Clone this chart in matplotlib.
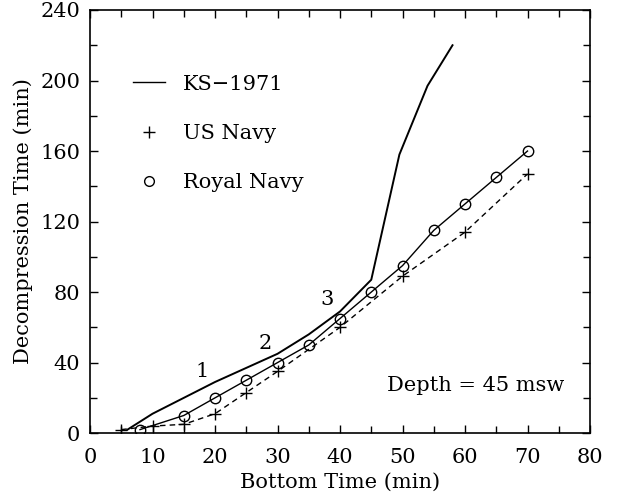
import matplotlib
matplotlib.use("Agg")
import matplotlib.pyplot as plt
from matplotlib.ticker import MultipleLocator

plt.rcParams['font.family'] = ['DejaVu Serif']

ks_x = [6, 10, 15, 20, 25, 30, 35, 40, 45, 49.5, 54, 58]
ks_y = [2, 11, 20, 29, 37, 45, 56, 69, 87, 158, 197, 220]

us_x = [5, 10, 15, 20, 25, 30, 40, 50, 60, 70]
us_y = [2, 4, 5, 11, 23, 35, 60, 89, 114, 147]

rn_x = [8, 15, 20, 25, 30, 35, 40, 45, 50, 55, 60, 65, 70]
rn_y = [2, 10, 20, 30, 40, 50, 65, 80, 95, 115, 130, 145, 160]

seg_labels = ["1", "2", "3"]
seg_x = [18, 28, 38]
seg_y = [35, 51, 76]

FS = 15

fig = plt.figure(figsize=(6.26, 4.99), dpi=100)
ax = fig.add_axes([0.1438, 0.132, 0.7987, 0.848])

ax.plot(ks_x, ks_y, color='black', lw=1.4)
ax.plot(rn_x, rn_y, color='black', lw=1.0, marker='o', ms=7.5,
        mfc='none', mec='black', mew=1.0)
ax.plot(us_x, us_y, color='black', lw=1.0, ls=(0, (4, 3)), marker='+',
        ms=9, mew=1.0)

# legend handles (markers only for the two navy tables)
h1, = ax.plot([], [], color='black', lw=1.0, label='KS\u22121971')
h2, = ax.plot([], [], color='black', ls='none', marker='+', ms=9, mew=1.0, label='US Navy')
h3, = ax.plot([], [], color='black', ls='none', marker='o', ms=7, mfc='none', mew=1.0, label='Royal Navy')
ax.legend(handles=[h1, h2, h3], loc='upper left', bbox_to_anchor=(0.086, 0.847),
          frameon=False, fontsize=FS, labelspacing=1.45, handlelength=1.55,
          handletextpad=0.85, borderpad=0, borderaxespad=0)

for s, x, y in zip(seg_labels, seg_x, seg_y):
    ax.text(x, y, s, fontsize=FS, ha='center', va='center')

ax.text(0.772, 0.113, 'Depth = 45 msw', transform=ax.transAxes,
        fontsize=FS, ha='center', va='center')

ax.set_xlim(0, 80)
ax.set_ylim(0, 240)
ax.xaxis.set_major_locator(MultipleLocator(10))
ax.xaxis.set_minor_locator(MultipleLocator(5))
ax.yaxis.set_major_locator(MultipleLocator(40))
ax.yaxis.set_minor_locator(MultipleLocator(20))
ax.tick_params(which='both', direction='in', top=True, right=True,
               labelsize=FS, width=1.0)
ax.tick_params(which='major', length=6)
ax.tick_params(which='minor', length=5)
ax.tick_params(axis='x', which='major', pad=11)
ax.tick_params(axis='y', which='major', pad=7)
for sp in ax.spines.values():
    sp.set_linewidth(1.2)

ax.set_xlabel('Bottom Time (min)', fontsize=FS, labelpad=4)
ax.set_ylabel('Decompression Time (min)', fontsize=FS, labelpad=5)

fig.savefig('out.png', dpi=100)
